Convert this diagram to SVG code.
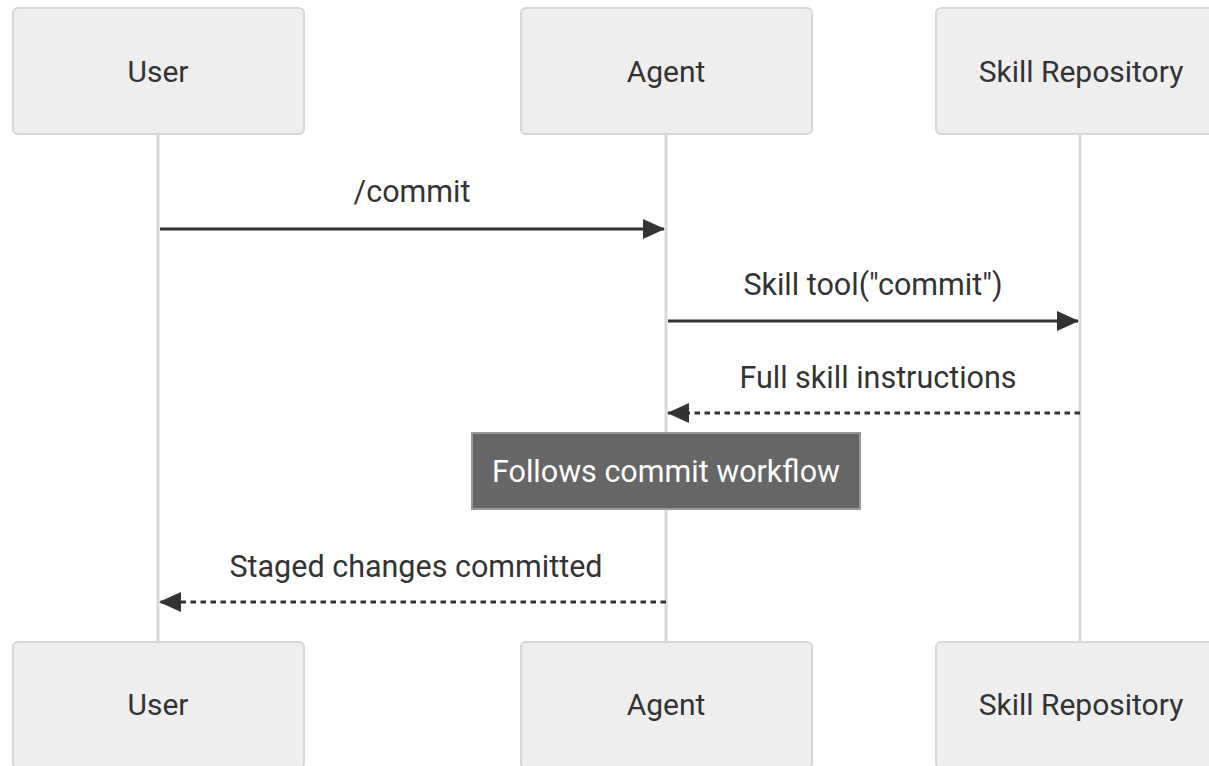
<svg xmlns="http://www.w3.org/2000/svg" width="1209" height="766" viewBox="0 0 1209 766">
<style>
.actor{fill:#eeeeee;stroke:#d6d6d6;stroke-width:2}
.atext{font-family:Roboto,"Liberation Sans",sans-serif;font-size:30px;fill:#333333;text-anchor:middle}
.life{stroke:#d9d9d9;stroke-width:3}
.msg{stroke:#333333;stroke-width:2.8;fill:none}
.dash{stroke-dasharray:5.5,4.5}
.mtext{font-family:Roboto,"Liberation Sans",sans-serif;font-size:30.5px;fill:#333333;text-anchor:middle}
.note{fill:#666666;stroke:#999999;stroke-width:2}
.ntext{font-family:Roboto,"Liberation Sans",sans-serif;font-size:30.5px;fill:#ffffff;text-anchor:middle}
</style>
<defs>
<marker id="ah" markerWidth="22" markerHeight="20" refX="21" refY="10" orient="auto" markerUnits="userSpaceOnUse">
<path d="M0,0 L22,10 L0,20 z" fill="#333333"/>
</marker>
</defs>
<rect width="1209" height="766" fill="#ffffff"/>
<g id="lifelines">
<line class="life" x1="158" y1="134" x2="158" y2="642"/>
<line class="life" x1="666" y1="134" x2="666" y2="642"/>
<line class="life" x1="1080" y1="134" x2="1080" y2="642"/>
</g>
<g id="user-top"><rect class="actor" x="13" y="8" width="291" height="126" rx="5"/><text class="atext" x="158" y="82">User</text></g>
<g id="agent-top"><rect class="actor" x="521" y="8" width="291" height="126" rx="5"/><text class="atext" x="666" y="82">Agent</text></g>
<g id="repo-top"><rect class="actor" x="936" y="8" width="291" height="126" rx="5"/><text class="atext" x="1081" y="82">Skill Repository</text></g>
<g id="user-bottom"><rect class="actor" x="13" y="642" width="291" height="126" rx="5"/><text class="atext" x="158" y="715">User</text></g>
<g id="agent-bottom"><rect class="actor" x="521" y="642" width="291" height="126" rx="5"/><text class="atext" x="666" y="715">Agent</text></g>
<g id="repo-bottom"><rect class="actor" x="936" y="642" width="291" height="126" rx="5"/><text class="atext" x="1081" y="715">Skill Repository</text></g>
<g id="connectors">
<line class="msg" x1="160" y1="229" x2="664" y2="229" marker-end="url(#ah)"/>
<text class="mtext" x="412" y="202">/commit</text>
<line class="msg" x1="668" y1="321" x2="1078" y2="321" marker-end="url(#ah)"/>
<text class="mtext" x="873" y="295">Skill tool("commit")</text>
<line class="msg dash" x1="1080" y1="413" x2="668" y2="413" marker-end="url(#ah)"/>
<text class="mtext" x="878" y="388">Full skill instructions</text>
<line class="msg dash" x1="666" y1="602" x2="160" y2="602" marker-end="url(#ah)"/>
<text class="mtext" x="416" y="577">Staged changes committed</text>
</g>
<g id="note"><rect class="note" x="472" y="433" width="388" height="76"/><text class="ntext" x="666" y="482">Follows commit workflow</text></g>
</svg>
